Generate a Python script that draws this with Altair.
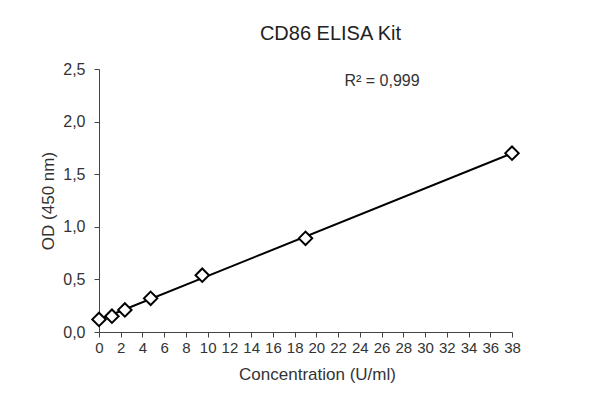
import altair as alt
import pandas as pd

conc = [0, 1.19, 2.38, 4.75, 9.5, 19, 38]
od = [0.12, 0.15, 0.21, 0.32, 0.54, 0.89, 1.70]
x_ticks = list(range(0, 39, 2))
y_ticks = [0, 0.5, 1.0, 1.5, 2.0, 2.5]

df = pd.DataFrame({"conc": conc, "od": od})
FONT = "Liberation Sans"

base = alt.Chart(df)

x_enc = alt.X("conc:Q", title="Concentration (U/ml)",
              scale=alt.Scale(domain=[0, 38], nice=False, zero=False),
              axis=alt.Axis(values=x_ticks, format="d", labelFontSize=15,
                            titleFontSize=17, titleFontWeight="normal",
                            labelColor="#333", titleColor="#333",
                            domainColor="#444", tickColor="#444",
                            tickSize=5, labelPadding=3, titlePadding=11,
                            titleX=218, titleAnchor="middle",
                            grid=False, labelFlush=False, labelOverlap=False))
y_enc = alt.Y("od:Q", title="OD (450 nm)",
              scale=alt.Scale(domain=[0, 2.5], nice=False),
              axis=alt.Axis(values=y_ticks, format=".1f", labelFontSize=16,
                            titleFontSize=17, titleFontWeight="normal",
                            labelColor="#333", titleColor="#333",
                            domainColor="#444", tickColor="#444",
                            tickSize=5, labelPadding=9, titlePadding=5,
                            grid=False))

fit = base.transform_regression("conc", "od", method="linear", extent=[0, 38]).mark_line(
    color="black", strokeWidth=2
).encode(x=x_enc, y=y_enc)

pts = base.mark_point(shape="diamond", size=180, filled=True, fill="white",
                      stroke="black", strokeWidth=2, opacity=1).encode(x=x_enc, y=y_enc)

r2 = alt.Chart(pd.DataFrame({"t": ["R² = 0,999"]})).mark_text(
    font=FONT, fontSize=16, color="#333", align="center", baseline="middle"
).encode(text="t:N", x=alt.value(283), y=alt.value(12))

chart = alt.layer(fit, pts, r2).properties(
    width=413, height=263,
    title=alt.TitleParams("CD86 ELISA Kit", fontSize=20, font=FONT, fontWeight="normal",
                          color="#222", anchor="middle", dx=25, offset=17),
    padding={"left": 91, "top": 61, "right": 60, "bottom": 60},
    autosize=alt.AutoSizeParams(type="none"),
).configure(
    font=FONT,
    locale={"number": {"decimal": ",", "thousands": ".", "grouping": [3], "currency": ["", " €"]}},
).configure_view(stroke=None).configure_axis(labelFont=FONT, titleFont=FONT)

chart.save("out.html", embed_options={"renderer": "svg", "actions": False})
